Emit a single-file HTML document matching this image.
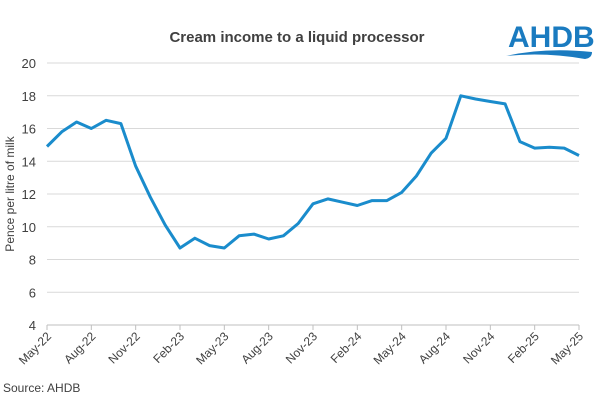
<!DOCTYPE html>
<html><head><meta charset="utf-8"><style>
body{margin:0;background:#fff;font-family:"Liberation Sans",Arial,sans-serif}
</style></head><body>
<svg width="604" height="401" viewBox="0 0 604 401" id="c" style="display:block">
<text x="297" y="42" text-anchor="middle" font-size="15" font-weight="bold" fill="#404040">Cream income to a liquid processor</text>
<g>
<text x="508" y="47" font-size="30" font-weight="bold" fill="#1a7bc0">AHDB</text>
<path d="M506 56 Q545 47 592 52 Q592 58 585 59 Q545 52 506 56Z" fill="#1a7bc0"/>
</g>
<text transform="translate(14,194) rotate(-90)" text-anchor="middle" font-size="12" fill="#404040">Pence per litre of milk</text>
<text x="3" y="392" font-size="12" fill="#404040">Source: AHDB</text>
<g id="grid"></g><g id="xt"></g><path id="line" fill="none" stroke="#1a8ccc" stroke-width="3" stroke-linejoin="round"/>
</svg>
<script>
const months=["May-22","Jun-22","Jul-22","Aug-22","Sep-22","Oct-22","Nov-22","Dec-22","Jan-23","Feb-23","Mar-23","Apr-23","May-23","Jun-23","Jul-23","Aug-23","Sep-23","Oct-23","Nov-23","Dec-23","Jan-24","Feb-24","Mar-24","Apr-24","May-24","Jun-24","Jul-24","Aug-24","Sep-24","Oct-24","Nov-24","Dec-24","Jan-25","Feb-25","Mar-25","Apr-25","May-25"];
const values=[14.9,15.8,16.4,16.0,16.5,16.3,13.7,11.8,10.1,8.7,9.3,8.85,8.7,9.45,9.55,9.25,9.45,10.2,11.4,11.7,11.5,11.3,11.6,11.6,12.1,13.1,14.5,15.4,18.0,17.8,17.65,17.5,15.2,14.8,14.85,14.8,14.35];
const yTicks=[4,6,8,10,12,14,16,18,20];
const xLabelIdx=[0,3,6,9,12,15,18,21,24,27,30,33,36];
const X0=47,X1=579,Y0=325,Y1=63;
const x=i=>X0+(X1-X0)*i/(months.length-1);
const y=v=>Y0-(Y0-Y1)*(v-4)/16;
const ns="http://www.w3.org/2000/svg";
const g=document.getElementById('grid'),xt=document.getElementById('xt');
yTicks.forEach(t=>{
 const l=document.createElementNS(ns,'line');
 
 
 l.setAttribute('x1',X0);l.setAttribute('x2',X1);l.setAttribute('y1',y(t));l.setAttribute('y2',y(t));
 l.setAttribute('stroke',t===4?'#bfbfbf':'#d9d9d9');g.appendChild(l);
 const tx=document.createElementNS(ns,'text');
 
 
 tx.setAttribute('x',36);tx.setAttribute('y',y(t)+5);tx.setAttribute('text-anchor','end');
 tx.setAttribute('font-size','13');tx.setAttribute('fill','#404040');tx.textContent=t;g.appendChild(tx);
});
xLabelIdx.forEach(i=>{
 const l=document.createElementNS(ns,'line');
 
 
 l.setAttribute('x1',x(i));l.setAttribute('x2',x(i));l.setAttribute('y1',Y0);l.setAttribute('y2',Y0+5);
 l.setAttribute('stroke','#bfbfbf');xt.appendChild(l);
 const tx=document.createElementNS(ns,'text');
 
 
 tx.setAttribute('transform',`translate(${x(i)+5},${Y0+12}) rotate(-45)`);
 tx.setAttribute('text-anchor','end');tx.setAttribute('font-size','12');tx.setAttribute('fill','#404040');
 tx.textContent=months[i];xt.appendChild(tx);
});
document.getElementById('line').setAttribute('d',values.map((v,i)=>(i?'L':'M')+x(i).toFixed(1)+' '+y(v).toFixed(1)).join(' '));
</script>
</body></html>
